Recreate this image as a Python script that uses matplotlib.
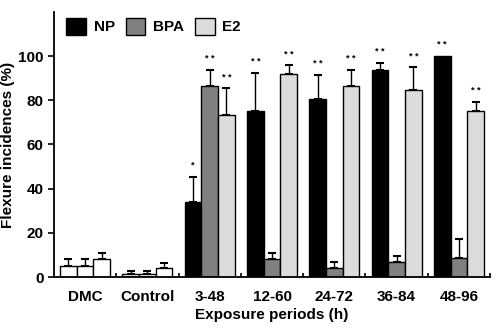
import numpy as np
import matplotlib
matplotlib.use("Agg")
import matplotlib.pyplot as plt
from matplotlib.patches import Patch

plt.rcParams['font.family'] = ['Liberation Sans', 'DejaVu Sans']
plt.rcParams['font.weight'] = 'bold'

groups = ['DMC', 'Control', '3-48', '12-60', '24-72', '36-84', '48-96']
series = ['NP', 'BPA', 'E2']

np_vals = [5, 1.3, 34, 75, 80.5, 93.5, 100]
bpa_vals = [5, 1.3, 86.5, 8, 4.2, 6.7, 8.5]
e2_vals = [8, 4.2, 73.3, 91.7, 86.5, 84.5, 75]
np_err = [3, 1.5, 11.5, 17.5, 11, 3.6, 0]
bpa_err = [3, 1.5, 7.3, 2.8, 2.8, 3, 8.6]
e2_err = [2.8, 2.2, 12.2, 4.2, 7.3, 10.4, 4.2]
np_stars = ['', '', '*', '**', '**', '**', '**']
bpa_stars = ['', '', '**', '', '', '', '']
e2_stars = ['', '', '**', '**', '**', '**', '**']

colors = ['black', '#808080', '#dcdcdc']

fig = plt.figure(figsize=(5, 3.31), dpi=100)
ax = fig.add_axes([0.108, 0.163, 0.872, 0.801])

x = np.arange(len(groups))
w = 0.268
vals = [np_vals, bpa_vals, e2_vals]
errs = [np_err, bpa_err, e2_err]
stars = [np_stars, bpa_stars, e2_stars]
for i in range(3):
    pos = x + (i - 1) * w
    fc = [colors[i] if g >= 2 else 'white' for g in range(len(groups))]
    ax.bar(pos, vals[i], w, color=fc, edgecolor='black', linewidth=1, zorder=2)
    e = np.array(errs[i])
    v = np.array(vals[i])
    m = e > 0
    ax.errorbar(pos[m], v[m], yerr=[np.zeros(m.sum()), e[m]], fmt='none',
                ecolor='black', elinewidth=1, capsize=3, capthick=1.5, zorder=1)
    for j in range(len(groups)):
        if stars[i][j]:
            s = ' '.join(stars[i][j])
            ax.text(pos[j], v[j] + e[j] + 3, s, ha='center', va='bottom',
                    fontsize=6.5, color='black')

ax.set_xlim(-0.5, 6.5)
ax.set_ylim(0, 120)
ax.set_yticks([0, 20, 40, 60, 80, 100])
ax.set_xticks(x)
ax.set_xticklabels(groups)
ax.set_xticks(np.arange(0.5, 7, 1), minor=True)
ax.tick_params(axis='x', which='major', length=0, pad=9, labelsize=11)
ax.tick_params(axis='x', which='minor', direction='in', length=3, width=1.2)
ax.tick_params(axis='y', direction='out', length=4, width=1.2, labelsize=11)
ax.spines['top'].set_visible(False)
ax.spines['right'].set_visible(False)
ax.spines['left'].set_linewidth(1.3)
ax.spines['bottom'].set_linewidth(1.3)
ax.set_xlabel('Exposure periods (h)', fontsize=11, fontweight='bold', labelpad=3)
ax.set_ylabel('Flexure incidences (%)', fontsize=11, fontweight='bold', labelpad=2)

handles = [Patch(facecolor=c, edgecolor='black', linewidth=1) for c in colors]
ax.legend(handles, series, loc='upper left', ncol=3, frameon=False,
          bbox_to_anchor=(0.0, 1.025), handlelength=1.3, handleheight=1.4,
          columnspacing=0.7, handletextpad=0.5, borderaxespad=0.4,
          prop={'weight': 'bold', 'size': 11})

fig.savefig('out.png', dpi=100)
